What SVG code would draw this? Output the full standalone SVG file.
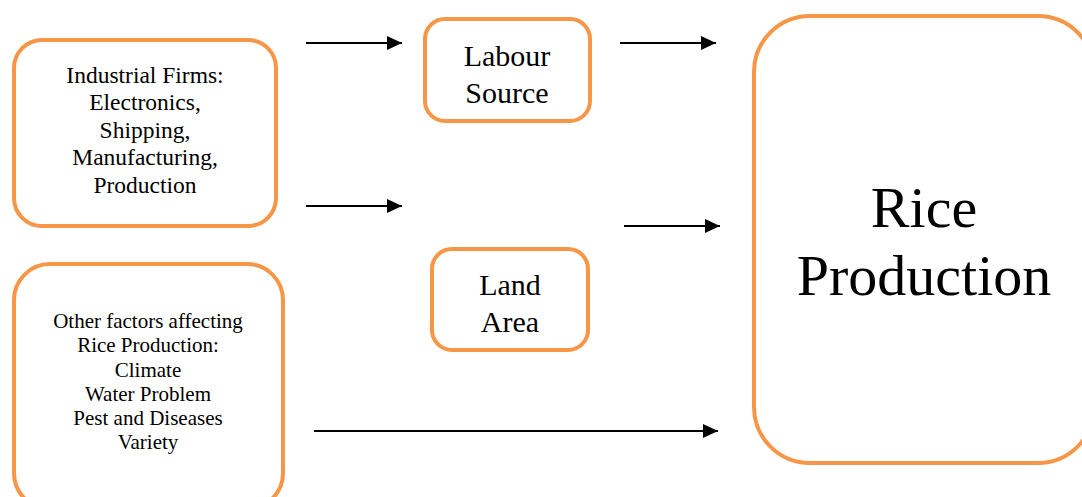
<svg xmlns="http://www.w3.org/2000/svg" width="1082" height="497" viewBox="0 0 1082 497">
<defs>
<style>
.box{fill:#fff;stroke:#F79646;stroke-width:4}
.t{font-family:"Liberation Serif","Times New Roman",serif;fill:#000;text-anchor:middle}
.c{stroke:#000;stroke-width:2;fill:none;marker-end:url(#ah)}
</style>
<marker id="ah" markerWidth="8" markerHeight="8" refX="7.5" refY="3.5" orient="auto" markerUnits="strokeWidth">
<path d="M0,0 L7.5,3.5 L0,7 Z" fill="#000"/>
</marker>
</defs>
<rect width="1082" height="497" fill="#fff"/>
<g id="industrial">
<rect class="box" x="14" y="40" width="262" height="186" rx="28"/>
<text class="t" font-size="23.5"><tspan x="145" y="83">Industrial Firms:</tspan><tspan x="145" y="110">Electronics,</tspan><tspan x="145" y="138">Shipping,</tspan><tspan x="145" y="165">Manufacturing,</tspan><tspan x="145" y="193">Production</tspan></text>
</g>
<g id="other">
<rect class="box" x="14" y="264" width="269" height="245" rx="36"/>
<text class="t" font-size="21"><tspan x="148" y="328">Other factors affecting</tspan><tspan x="148" y="352">Rice Production:</tspan><tspan x="148" y="377">Climate</tspan><tspan x="148" y="401">Water Problem</tspan><tspan x="148" y="425">Pest and Diseases</tspan><tspan x="148" y="449">Variety</tspan></text>
</g>
<g id="labour">
<rect class="box" x="425" y="19" width="165" height="102" rx="20"/>
<text class="t" font-size="30"><tspan x="507" y="66">Labour</tspan><tspan x="507" y="103">Source</tspan></text>
</g>
<g id="land">
<rect class="box" x="432" y="249" width="156" height="101" rx="20"/>
<text class="t" font-size="30"><tspan x="510" y="295">Land</tspan><tspan x="510" y="332">Area</tspan></text>
</g>
<g id="rice">
<rect class="box" x="754" y="16" width="340" height="447" rx="56"/>
<text class="t" font-size="58"><tspan x="924" y="227">Rice</tspan><tspan x="924" y="295">Production</tspan></text>
</g>
<g id="connectors">
<line class="c" x1="306" y1="43" x2="402" y2="43"/>
<line class="c" x1="620" y1="43" x2="716" y2="43"/>
<line class="c" x1="306" y1="206" x2="402" y2="206"/>
<line class="c" x1="624" y1="226" x2="720" y2="226"/>
<line class="c" x1="314" y1="431" x2="718" y2="431"/>
</g>
</svg>
